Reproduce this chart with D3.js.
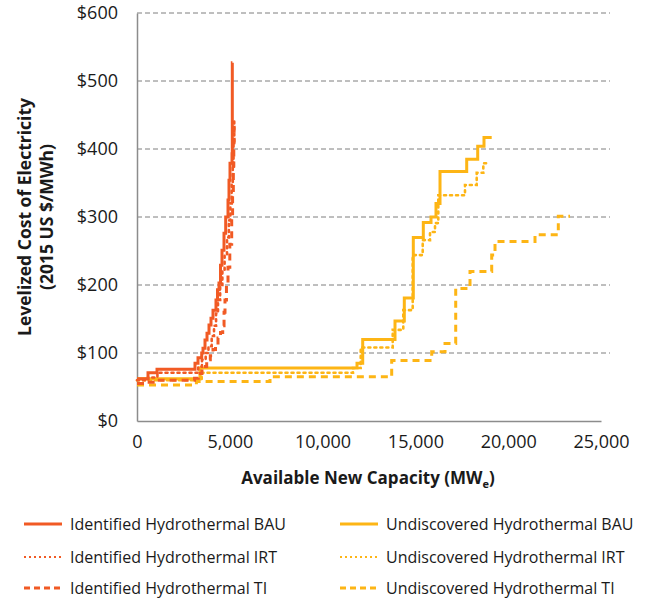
<!DOCTYPE html>
<html>
<head>
<meta charset="utf-8">
<script src="https://cdn.jsdelivr.net/npm/d3@7"></script>
<style>
  body { margin: 0; background: #fff; }
  svg text { font-family: "Open Sans", "Lato", sans-serif; fill: #1a1a1a; }
</style>
</head>
<body>
<svg id="chart" width="650" height="600"></svg>
<script>
// Supply curves: capacity (MWe) at which the levelized cost steps to a new value ($/MWh)
const identifiedBAU = [[0,62],[593,71],[1078,76],[3017,76],[3125,85],[3287,93],[3486,100],[3556,107],[3664,119],[3772,129],[3880,141],[3987,151],[4095,163],[4256,178],[4337,193],[4418,203],[4499,229],[4580,251],[4688,276],[4779,300],[4903,325],[4957,354],[5011,379],[5119,393],[5135,527],[5140,527]];
const identifiedIRT = [[0,60],[600,64],[1100,71],[3100,71],[3300,80],[3500,90],[3700,100],[3850,110],[4025,125],[4150,140],[4260,158],[4364,178],[4480,200],[4600,222],[4720,245],[4850,270],[4950,295],[5030,320],[5100,350],[5160,380],[5200,410],[5240,445],[5245,445]];
const identifiedTI = [[0,55],[500,57],[1200,60],[3100,63],[3300,70],[3500,80],[3755,90],[3950,96],[4095,105],[4230,112],[4364,122],[4500,130],[4618,140],[4690,160],[4741,178],[4820,200],[4903,226],[5000,260],[5102,300],[5150,335],[5190,375],[5215,410],[5232,440],[5236,440]];
const undiscoveredBAU = [[0,62],[3394,78],[11854,85],[12161,120],[13901,147],[14402,181],[14887,270],[15426,292],[15841,300],[16110,320],[16326,367],[17764,385],[18357,404],[18696,417],[19111,417]];
const undiscoveredIRT = [[0,60],[3486,71],[11638,78],[12053,108],[13777,134],[14348,163],[14855,244],[15394,266],[15787,278],[16057,291],[16234,332],[17672,347],[18303,365],[18659,379],[18842,379]];
const undiscoveredTI = [[0,53],[3200,58],[7166,65],[13723,89],[15879,102],[16596,114],[17172,195],[17942,220],[19111,244],[19289,264],[21444,274],[22700,301],[23330,301]];

const xTicks = [0, 5000, 10000, 15000, 20000, 25000];
const yTicks = [0, 100, 200, 300, 400, 500, 600];

const seriesNames = ["Identified Hydrothermal BAU", "Identified Hydrothermal IRT", "Identified Hydrothermal TI",
                     "Undiscovered Hydrothermal BAU", "Undiscovered Hydrothermal IRT", "Undiscovered Hydrothermal TI"];
const seriesData = [identifiedBAU, identifiedIRT, identifiedTI, undiscoveredBAU, undiscoveredIRT, undiscoveredTI];

const RED = "#F15A24", GOLD = "#FDB515";
const styles = [
  {color: RED, dash: null, w: 3},
  {color: RED, dash: "2,4", w: 2.6},
  {color: RED, dash: "7,5", w: 3},
  {color: GOLD, dash: null, w: 3},
  {color: GOLD, dash: "2,4", w: 2.6},
  {color: GOLD, dash: "7,5", w: 3}
];

const svg = d3.select("#chart");
const plotLeft = 137, plotRight = 601, plotTop = 13, plotBottom = 421;

const x = d3.scaleLinear().domain([0, 25000]).range([plotLeft, plotRight]);
const y = d3.scaleLinear().domain([0, 600]).range([plotBottom, plotTop]);

// horizontal dashed gridlines
svg.append("g").selectAll("line")
  .data(yTicks.filter(d => d > 0))
  .join("line")
  .attr("x1", plotLeft).attr("x2", 610)
  .attr("y1", d => y(d)).attr("y2", d => y(d))
  .attr("stroke", "#7f7f7f").attr("stroke-width", 1)
  .attr("stroke-dasharray", "5,3");

// axes
const yAxis = svg.append("g").attr("transform", `translate(${plotLeft},0)`)
  .call(d3.axisLeft(y).tickValues(yTicks).tickSize(0).tickPadding(19).tickFormat(d => "$" + d));
yAxis.select(".domain").attr("stroke", "#8c8c8c").attr("stroke-width", 1.5);
yAxis.selectAll("text").attr("font-size", 18);

const xAxis = svg.append("g").attr("transform", `translate(0,${plotBottom})`)
  .call(d3.axisBottom(x).tickValues(xTicks).tickSize(0).tickPadding(14).tickFormat(d3.format(",")));
xAxis.select(".domain").attr("stroke", "#8c8c8c").attr("stroke-width", 1.5);
xAxis.selectAll("text").attr("font-size", 18);

// series
const line = d3.line().x(d => x(d[0])).y(d => y(d[1])).curve(d3.curveStepAfter);
const order = [3, 4, 5, 2, 1, 0];
svg.append("g").selectAll("path")
  .data(order)
  .join("path")
  .attr("d", i => line(seriesData[i]))
  .attr("fill", "none")
  .attr("stroke", i => styles[i].color)
  .attr("stroke-width", i => styles[i].w)
  .attr("stroke-dasharray", i => styles[i].dash)
  .attr("stroke-linecap", i => styles[i].dash === "2,4" ? "round" : "butt");

// axis titles
const xt = svg.append("text").attr("x", 368).attr("y", 484).attr("text-anchor", "middle")
  .attr("font-size", 17).attr("font-weight", "bold");
xt.append("tspan").text("Available New Capacity (MW");
xt.append("tspan").attr("font-size", 11).attr("dy", 4).text("e");
xt.append("tspan").attr("dy", -4).text(")");

const yt = svg.append("text").attr("transform", "translate(31,217) rotate(-90)")
  .attr("text-anchor", "middle").attr("font-size", 17.5).attr("font-weight", "bold");
yt.append("tspan").attr("x", 0).attr("dy", 0).text("Levelized Cost of Electricity");
yt.append("tspan").attr("x", 0).attr("dy", 22).text("(2015 US $/MWh)");

// legend: two columns of three rows
const legend = svg.append("g");
const rowsY = [524, 557, 588];
seriesNames.forEach((name, i) => {
  const col = Math.floor(i / 3), row = i % 3;
  const lx = col === 0 ? 24 : 340;
  const g = legend.append("g").attr("transform", `translate(${lx},${rowsY[row]})`);
  g.append("line").attr("x1", 0).attr("x2", 38).attr("y1", 0).attr("y2", 0)
    .attr("stroke", styles[i].color)
    .attr("stroke-width", styles[i].dash === "2,4" ? 2 : 3)
    .attr("stroke-dasharray", styles[i].dash === "2,4" ? "2,3" : (styles[i].dash ? "6,4" : null));
  g.append("text").attr("x", 46).attr("y", 6).attr("font-size", 16).text(name);
});
</script>
</body>
</html>
